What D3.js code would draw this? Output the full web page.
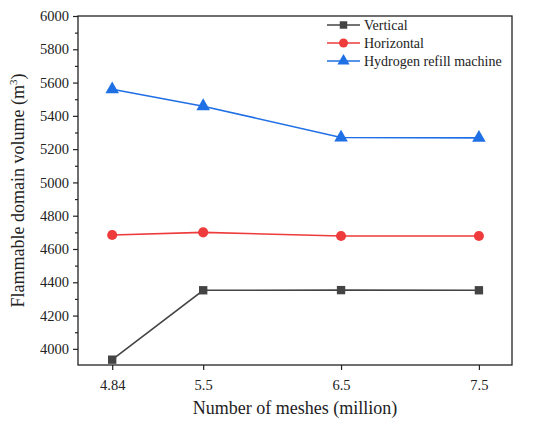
<!DOCTYPE html>
<html>
<head>
<meta charset="utf-8">
<script src="https://cdn.jsdelivr.net/npm/d3@7"></script>
<style>
  body { margin: 0; background: #fff; }
  text { font-family: "Liberation Serif", "Times New Roman", serif; }
</style>
</head>
<body>
<div id="chart"></div>
<script>
// data
var meshes = [4.84, 5.5, 6.5, 7.5];
var vertical = [3935, 4352, 4353, 4352];
var horizontal = [4684, 4700, 4678, 4678];
var refill = [5560, 5458, 5270, 5268];
var seriesNames = ["Vertical", "Horizontal", "Hydrogen refill machine"];
var yTicks = [4000, 4200, 4400, 4600, 4800, 5000, 5200, 5400, 5600, 5800, 6000];

var W = 539, H = 422;
var margin = { top: 16, right: 27, bottom: 57, left: 78 },
  width = W - margin.left - margin.right,
  height = H - margin.top - margin.bottom;

var colors = ["#444444", "#ee3b3b", "#1f6fe5"];
var shapes = [d3.symbolSquare, d3.symbolCircle, d3.symbolTriangle];
var sizes = [70, 80, 80];

var svg = d3.select("#chart").append("svg")
  .attr("width", W).attr("height", H)
  .append("g")
  .attr("transform", "translate(" + margin.left + "," + margin.top + ")");

var x = d3.scaleLinear().domain([4.592, 7.74]).range([0, width]);
var y = d3.scaleLinear().domain([3903, 6000]).range([height, 0]);

// frame
svg.append("rect")
  .attr("width", width).attr("height", height)
  .attr("fill", "none").attr("stroke", "#222").attr("stroke-width", 1.3);

// x axis
var xAxis = svg.append("g")
  .attr("transform", "translate(0," + height + ")")
  .call(d3.axisBottom(x).tickValues(meshes).tickFormat(d => d).tickSizeOuter(0).tickSize(5));
xAxis.select(".domain").remove();
xAxis.selectAll("line").attr("stroke", "#222").attr("stroke-width", 1.2);
xAxis.selectAll("text").style("font-size", "14.5px").attr("fill", "#222").attr("dy", "1.15em")
  .style("font-family", "Liberation Serif");

// y axis, major + minor
var yMinor = svg.append("g")
  .call(d3.axisLeft(y).tickValues(d3.range(4100, 6000, 200)).tickSize(3).tickFormat(""));
yMinor.select(".domain").remove();
yMinor.selectAll("line").attr("stroke", "#222").attr("stroke-width", 1.2);

var yAxis = svg.append("g")
  .call(d3.axisLeft(y).tickValues(yTicks).tickSize(5).tickPadding(4).tickFormat(d3.format("d")));
yAxis.select(".domain").remove();
yAxis.selectAll("line").attr("stroke", "#222").attr("stroke-width", 1.2);
yAxis.selectAll("text").style("font-size", "14.5px").attr("fill", "#222")
  .style("font-family", "Liberation Serif");

// lines + markers
var allSeries = [vertical, horizontal, refill];
var line = d3.line().x((d, i) => x(meshes[i])).y(d => y(d));

allSeries.forEach(function (vals, k) {
  svg.append("path")
    .datum(vals)
    .attr("d", line)
    .attr("fill", "none")
    .attr("stroke", colors[k])
    .attr("stroke-width", 1.6);

  svg.selectAll(".m" + k)
    .data(vals).enter().append("path")
    .attr("d", d3.symbol().type(shapes[k]).size(sizes[k]))
    .attr("transform", (d, i) => "translate(" + x(meshes[i]) + "," + y(d) + ")")
    .attr("fill", colors[k]);
});

// legend
var legend = svg.append("g").attr("transform", "translate(249,9)");
seriesNames.forEach(function (name, k) {
  var g = legend.append("g").attr("transform", "translate(0," + (k * 18) + ")");
  g.append("line").attr("x1", 0).attr("x2", 33).attr("y1", 0).attr("y2", 0)
    .attr("stroke", colors[k]).attr("stroke-width", 1.6);
  g.append("path").attr("d", d3.symbol().type(shapes[k]).size(sizes[k] * 0.8)())
    .attr("transform", "translate(16.5,0)").attr("fill", colors[k]);
  g.append("text").attr("x", 37).attr("y", 4.5)
    .style("font-size", "14px").attr("fill", "#222").text(name);
});

// axis titles
svg.append("text")
  .attr("x", width / 2).attr("y", height + 49)
  .attr("text-anchor", "middle").style("font-size", "18px").attr("fill", "#222")
  .text("Number of meshes (million)");

var yt = svg.append("text")
  .attr("transform", "translate(-54," + (height / 2) + ") rotate(-90)")
  .attr("text-anchor", "middle").style("font-size", "18px").attr("fill", "#222");
yt.append("tspan").text("Flammable domain volume (m");
yt.append("tspan").style("font-size", "11px").attr("dy", "-7").text("3");
yt.append("tspan").attr("dy", "7").text(")");
</script>
</body>
</html>
